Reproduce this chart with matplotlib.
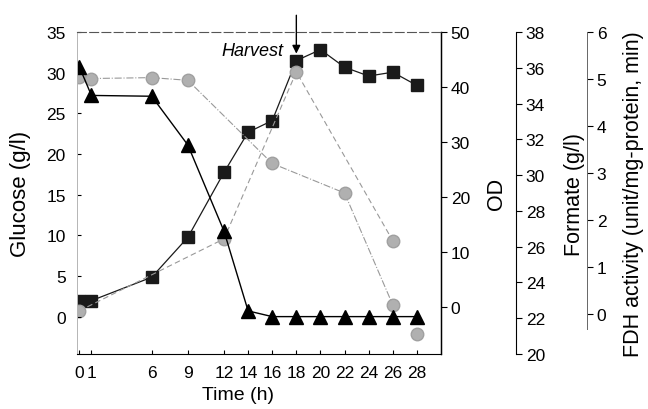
import matplotlib
matplotlib.use("Agg")
import matplotlib.pyplot as plt

plt.rcParams["font.family"] = ["Liberation Sans", "DejaVu Sans"]

# время отбора проб, ч
time_ticks = [0, 1, 6, 9, 12, 14, 16, 18, 20, 22, 24, 26, 28]

# глюкоза (г/л)
glc_t = [0, 1, 6, 9, 12, 14, 16, 18, 20, 22, 24, 26, 28]
glucose = [30.7, 27.2, 27.1, 21.1, 10.5, 0.7, 0.0, 0.0, 0.0, 0.0, 0.0, 0.0, 0.0]

# оптическая плотность
od_t = [0, 1, 6, 9, 12, 14, 16, 18, 20, 22, 24, 26, 28]
od = [1.2, 1.2, 5.45, 12.7, 24.5, 31.8, 33.9, 44.8, 46.8, 43.6, 42.0, 42.7, 40.3]

# формиат (г/л)
form_t = [0, 1, 6, 9, 16, 22, 26, 28]
formate = [35.5, 35.4, 35.45, 35.3, 30.65, 29.0, 22.75, 21.1]

# активность FDH
fdh_t = [0, 12, 18, 26]
fdh = [0.07, 1.6, 5.15, 1.56]

fig = plt.figure(figsize=(6.48, 4.10), dpi=100)
ax = fig.add_axes([0.1188, 0.1341, 0.5617, 0.7854])
ax2 = ax.twinx()
ax3 = ax.twinx()
ax4 = ax.twinx()

gray_m = "#b0b0b0"
gray_l = "#999999"

# формиат
ax3.plot(form_t[:-1], formate[:-1], linestyle="-.", color=gray_l, lw=0.8)
ax3.plot(form_t, formate, "o", color=gray_m, markersize=9, markeredgecolor="#a0a0a0")
# FDH
ax4.plot(fdh_t, fdh, linestyle="--", color=gray_l, lw=0.8, dashes=(5, 3))
ax4.plot(fdh_t, fdh, "o", color=gray_m, markersize=9, markeredgecolor="#a0a0a0")
# OD
ax2.plot(od_t, od, "s-", color="#1a1a1a", lw=0.9, markersize=8.5)
# глюкоза
ax.plot(glc_t, glucose, "^-", color="black", lw=1.0, markersize=10.5)
ax.set_zorder(ax4.get_zorder() + 1)
ax.patch.set_visible(False)

ax.set_xlim(-0.2, 30.0)
ax.set_ylim(-4.6, 35)
ax.set_yticks([0, 5, 10, 15, 20, 25, 30, 35])
ax.set_xticks(time_ticks)
ax.set_xticklabels([str(t) for t in time_ticks])
ax.tick_params(axis="both", labelsize=12.5, direction="in", length=3, width=0.8)
ax.tick_params(axis="y", pad=8)
ax.tick_params(axis="x", pad=8)
ax.set_xlabel("Time (h)", fontsize=14)
ax.xaxis.set_label_coords(0.442, -0.1)
ax.set_ylabel("Glucose (g/l)", fontsize=16)
ax.yaxis.set_label_coords(-0.127, 0.5)
ax.spines["left"].set_color("#b5b5b5")
ax.spines["left"].set_linewidth(0.7)
ax.spines["top"].set_color("#555555")
ax.spines["top"].set_linestyle((0, (8, 3)))
ax.spines["top"].set_linewidth(0.8)

ax2.set_ylim(-8.5, 50)
ax2.set_yticks([0, 10, 20, 30, 40, 50])
ax2.tick_params(labelsize=12.5, direction="out", length=4, width=0.8, pad=3)
ax2.set_ylabel("OD", fontsize=15.5)
ax2.yaxis.set_label_coords(1.124, 0.5)
ax2.spines["right"].set_linewidth(1.0)

ax3.set_ylim(20, 38)
ax3.set_yticks(list(range(20, 39, 2)))
ax3.spines["right"].set_position(("axes", 1.206))
ax3.spines["right"].set_linewidth(0.8)
ax3.tick_params(labelsize=12.5, direction="out", length=4, width=0.8, pad=3)
ax3.set_ylabel("Formate (g/l)", fontsize=15.5)
ax3.yaxis.set_label_coords(1.338, 0.5)

ax4.set_ylim(-0.85, 6)
ax4.set_yticks([0, 1, 2, 3, 4, 5, 6])
ax4.spines["right"].set_position(("axes", 1.401))
ax4.spines["right"].set_bounds(-0.32, 6)
ax4.spines["right"].set_color("#666666")
ax4.spines["right"].set_linewidth(0.7)
ax4.tick_params(labelsize=12.5, direction="out", length=4, width=0.8, pad=3)
ax4.set_ylabel("FDH activity (unit/mg-protein, min)", fontsize=15.5)
ax4.yaxis.set_label_coords(1.5, 0.5)

for a in (ax2, ax3, ax4):
    for s in ("left", "top", "bottom"):
        a.spines[s].set_visible(False)

# момент сбора клеток
ax.annotate("", xy=(18, 32.0), xytext=(18, 37.4),
            arrowprops=dict(arrowstyle="-|>", color="black", lw=1.0,
                            mutation_scale=12),
            annotation_clip=False)
ax.text(16.9, 32.7, "Harvest", fontsize=13, style="italic",
        ha="right", va="center")

fig.savefig("out.png", dpi=100)
